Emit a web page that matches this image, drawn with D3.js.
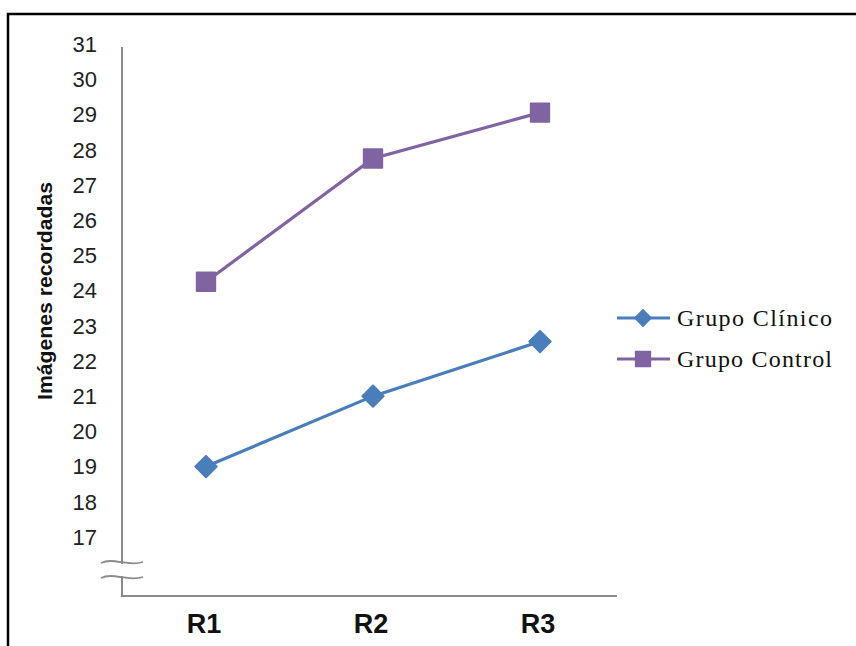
<!DOCTYPE html>
<html>
<head>
<meta charset="utf-8">
<script src="https://cdn.jsdelivr.net/npm/d3@7"></script>
<style>
  body { margin: 0; background: #fff; }
  svg { display: block; }
</style>
</head>
<body>
<div id="chart"></div>
<script>
const width = 856, height = 646;

// data
const rounds = ["R1", "R2", "R3"];
const clinico = [19.0, 21.0, 22.55];
const control = [24.25, 27.75, 29.05];
const yTicks = d3.range(17, 32);
const seriesNames = ["Grupo Clínico", "Grupo Control"];

const blue = "#4a7ebb", purple = "#8064a2", axisGray = "#8c8c8c";

const svg = d3.select("#chart")
    .append("svg")
    .attr("width", width)
    .attr("height", height);

// frame (left and top visible)
svg.append("path")
    .attr("d", "M8,646 L8,14 L856,14")
    .attr("fill", "none")
    .attr("stroke", "#000")
    .attr("stroke-width", 2.5);

const x = d3.scalePoint().domain(rounds).range([206, 540]);
const y = d3.scaleLinear().domain([17, 31]).range([537, 44]);

// axes lines
svg.append("line")
    .attr("x1", 122).attr("x2", 122)
    .attr("y1", 47).attr("y2", 597)
    .attr("stroke", axisGray).attr("stroke-width", 2);
svg.append("line")
    .attr("x1", 122).attr("x2", 617)
    .attr("y1", 596).attr("y2", 596)
    .attr("stroke", axisGray).attr("stroke-width", 2);

// axis break
svg.append("rect")
    .attr("x", 116).attr("y", 564).attr("width", 12).attr("height", 12)
    .attr("fill", "#fff");
[562, 577].forEach(by => {
    svg.append("path")
        .attr("d", `M101,${by + 1} C113,${by - 5} 128,${by + 5} 143,${by}`)
        .attr("fill", "none")
        .attr("stroke", axisGray)
        .attr("stroke-width", 1.8);
});

// y tick labels
svg.append("g")
    .selectAll("text")
    .data(yTicks)
    .enter()
    .append("text")
    .attr("x", 97)
    .attr("y", d => y(d))
    .attr("dy", "0.36em")
    .attr("text-anchor", "end")
    .attr("font-family", "Liberation Sans, Arial, sans-serif")
    .attr("font-size", 22)
    .attr("fill", "#222")
    .text(d => d);

// x labels
svg.append("g")
    .selectAll("text")
    .data(rounds)
    .enter()
    .append("text")
    .attr("x", d => x(d) - 2)
    .attr("y", 633)
    .attr("text-anchor", "middle")
    .attr("font-family", "Liberation Sans, Arial, sans-serif")
    .attr("font-weight", "bold")
    .attr("font-size", 27)
    .attr("fill", "#111")
    .text(d => d);

// y title
svg.append("text")
    .attr("transform", "translate(52,291) rotate(-90)")
    .attr("text-anchor", "middle")
    .attr("font-family", "Liberation Sans Narrow, Arial Narrow, Liberation Sans, sans-serif")
    .attr("font-weight", "bold")
    .attr("font-size", 21)
    .attr("textLength", 218)
    .attr("lengthAdjust", "spacingAndGlyphs")
    .attr("fill", "#111")
    .text("Imágenes recordadas");

// lines
const line = d3.line()
    .x((d, i) => x(rounds[i]))
    .y(d => y(d));

const diamond = d3.symbol().type(d3.symbolDiamond2);
const squareSym = d3.symbol().type(d3.symbolSquare2);

function drawSeries(vals, color, sym, size) {
    svg.append("path")
        .datum(vals)
        .attr("d", line)
        .attr("fill", "none")
        .attr("stroke", color)
        .attr("stroke-width", 3.2);
    svg.append("g")
        .selectAll("path")
        .data(vals)
        .enter()
        .append("path")
        .attr("transform", (d, i) => `translate(${x(rounds[i])},${y(d)})`)
        .attr("d", sym.size(size)())
        .attr("fill", color)
        .attr("stroke", color)
        .attr("stroke-width", 2)
        .attr("stroke-linejoin", "round");
}

drawSeries(clinico, blue, diamond, 290);
drawSeries(control, purple, squareSym, 430);

// legend
const legend = svg.append("g");
const legendRows = [
    { name: seriesNames[0], color: blue, sym: diamond, size: 170, y: 318, len: 155 },
    { name: seriesNames[1], color: purple, sym: squareSym, size: 280, y: 359, len: 155 }
];
legendRows.forEach(r => {
    legend.append("line")
        .attr("x1", 617).attr("x2", 670)
        .attr("y1", r.y).attr("y2", r.y)
        .attr("stroke", r.color).attr("stroke-width", 3);
    legend.append("path")
        .attr("transform", `translate(643,${r.y})`)
        .attr("d", r.sym.size(r.size)())
        .attr("fill", r.color)
        .attr("stroke", r.color)
        .attr("stroke-width", 1.5)
        .attr("stroke-linejoin", "round");
    legend.append("text")
        .attr("x", 677)
        .attr("y", r.y + 8)
        .attr("font-family", "Liberation Serif, Times New Roman, serif")
        .attr("font-size", 24)
        .attr("textLength", r.len)
        .attr("lengthAdjust", "spacing")
        .attr("fill", "#111")
        .text(r.name);
});
</script>
</body>
</html>
